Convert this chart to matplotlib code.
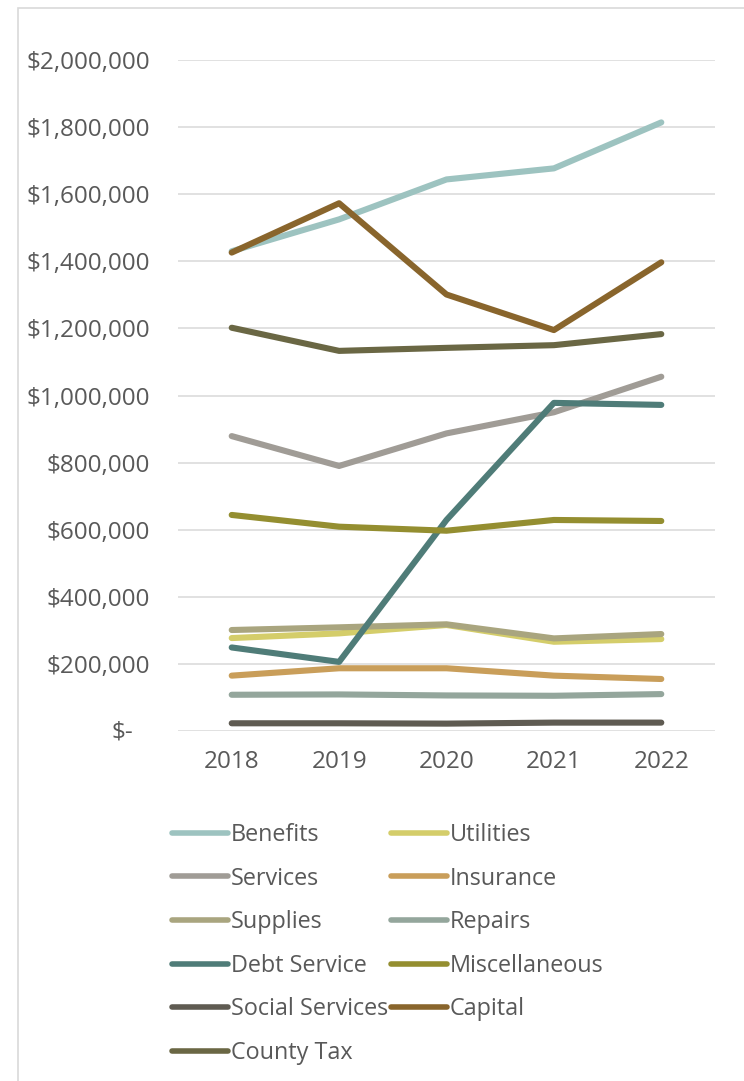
import matplotlib
matplotlib.use("Agg")
import matplotlib.pyplot as plt
from matplotlib.patches import Rectangle
from matplotlib.ticker import FuncFormatter

# Annual expenditure by category
years = ["2018", "2019", "2020", "2021", "2022"]

benefits = [1430000, 1525000, 1644000, 1677000, 1814000]
utilities = [277000, 291000, 316000, 266000, 274000]
services = [879000, 790000, 887000, 950000, 1056000]
insurance = [165000, 187000, 187000, 165000, 155000]
supplies = [301000, 309000, 318000, 276000, 289000]
repairs = [108000, 109000, 106000, 105000, 110000]
debt_service = [249000, 206000, 629000, 978000, 972000]
miscellaneous = [644000, 609000, 597000, 629000, 626000]
social_services = [23000, 23000, 22000, 25000, 25000]
capital = [1426000, 1573000, 1301000, 1195000, 1397000]
county_tax = [1202000, 1133000, 1142000, 1150000, 1183000]

series = [
    ("Benefits", benefits, "#9DC3C0"),
    ("Utilities", utilities, "#D4CD6A"),
    ("Services", services, "#A09C96"),
    ("Insurance", insurance, "#C99E5A"),
    ("Supplies", supplies, "#A9A57F"),
    ("Repairs", repairs, "#94A69C"),
    ("Debt Service", debt_service, "#4F7C78"),
    ("Miscellaneous", miscellaneous, "#948E30"),
    ("Social Services", social_services, "#5F5B52"),
    ("Capital", capital, "#89652C"),
    ("County Tax", county_tax, "#6A6744"),
]

TEXT = "#595959"
GRID = "#D9D9D9"
FONT = "Open Sans"

W, H = 744, 1081
fig = plt.figure(figsize=(W / 100, H / 100), dpi=100)
fig.patch.set_facecolor("white")

# outer chart frame
fig.patches.append(Rectangle((17.5 / W, -0.05), 1.2, 1.05 - 7.5 / H,
                             transform=fig.transFigure, fill=False,
                             edgecolor=GRID, linewidth=1.2))

ax = fig.add_axes([178 / W, 1 - 731 / H, (715 - 178) / W, (731 - 60) / H])

x = list(range(len(years)))
handles = {}
for name, vals, color in series:
    (ln,) = ax.plot(x, vals, color=color, lw=4.4, solid_capstyle="round",
                    solid_joinstyle="round", label=name)
    handles[name] = ln

ax.set_xlim(-0.5, len(years) - 0.5)
ax.set_ylim(0, 2000000)
ax.set_yticks(range(0, 2000001, 200000))
ax.set_xticks(x)
ax.set_xticklabels(years)

def money(v, pos):
    if v == 0:
        return ""
    return "${:,.0f}".format(v)

ax.yaxis.set_major_formatter(FuncFormatter(money))
ax.grid(axis="y", color=GRID, lw=1.1)
ax.set_axisbelow(True)
for s in ax.spines.values():
    s.set_visible(False)
ax.tick_params(axis="both", length=0, colors=TEXT, labelsize=17.5)
ax.tick_params(axis="y", pad=20)
ax.tick_params(axis="x", pad=14)
for lbl in ax.get_xticklabels() + ax.get_yticklabels():
    lbl.set_fontfamily(FONT)

# zero label in accounting style
ax.text(133 / W, 1 - 733 / H, "$-", transform=fig.transFigure, ha="right",
        va="center", color=TEXT, fontsize=17.5, fontfamily=FONT)

order = ["Benefits", "Services", "Supplies", "Debt Service", "Social Services",
         "County Tax", "Utilities", "Insurance", "Repairs", "Miscellaneous",
         "Capital"]
leg = fig.legend([handles[n] for n in order], order, ncol=2,
                 loc="upper left", bbox_to_anchor=(172 / W, 1 - 823 / H),
                 frameon=False, handlelength=2.4, handletextpad=0.12,
                 columnspacing=0.12, labelspacing=0.84, borderaxespad=0,
                 borderpad=0, prop={"family": FONT, "size": 16.8})
for t in leg.get_texts():
    t.set_color(TEXT)
for h in leg.legend_handles:
    h.set_linewidth(4.0)

fig.savefig("out.png", dpi=100, facecolor="white")
